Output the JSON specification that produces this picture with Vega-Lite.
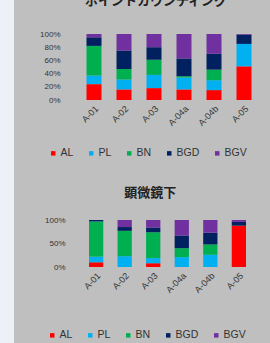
{
  "$schema": "https://vega.github.io/schema/vega-lite/v6.json",
  "background": "#bfbfbf",
  "padding": {"left": 0, "top": -7, "right": 11, "bottom": 11},
  "spacing": 25,
  "datasets": {
    "top": [
      {"s": "A-01", "t": "AL", "o": 1, "v": 24}, {"s": "A-01", "t": "PL", "o": 2, "v": 13}, {"s": "A-01", "t": "BN", "o": 3, "v": 45}, {"s": "A-01", "t": "BGD", "o": 4, "v": 13}, {"s": "A-01", "t": "BGV", "o": 5, "v": 5},
      {"s": "A-02", "t": "AL", "o": 1, "v": 16}, {"s": "A-02", "t": "PL", "o": 2, "v": 15}, {"s": "A-02", "t": "BN", "o": 3, "v": 16}, {"s": "A-02", "t": "BGD", "o": 4, "v": 28}, {"s": "A-02", "t": "BGV", "o": 5, "v": 25},
      {"s": "A-03", "t": "AL", "o": 1, "v": 18}, {"s": "A-03", "t": "PL", "o": 2, "v": 20}, {"s": "A-03", "t": "BN", "o": 3, "v": 23}, {"s": "A-03", "t": "BGD", "o": 4, "v": 19}, {"s": "A-03", "t": "BGV", "o": 5, "v": 20},
      {"s": "A-04a", "t": "AL", "o": 1, "v": 16}, {"s": "A-04a", "t": "PL", "o": 2, "v": 18}, {"s": "A-04a", "t": "BN", "o": 3, "v": 2}, {"s": "A-04a", "t": "BGD", "o": 4, "v": 27}, {"s": "A-04a", "t": "BGV", "o": 5, "v": 37},
      {"s": "A-04b", "t": "AL", "o": 1, "v": 15}, {"s": "A-04b", "t": "PL", "o": 2, "v": 15}, {"s": "A-04b", "t": "BN", "o": 3, "v": 16}, {"s": "A-04b", "t": "BGD", "o": 4, "v": 24}, {"s": "A-04b", "t": "BGV", "o": 5, "v": 30},
      {"s": "A-05", "t": "AL", "o": 1, "v": 51}, {"s": "A-05", "t": "PL", "o": 2, "v": 34}, {"s": "A-05", "t": "BN", "o": 3, "v": 0}, {"s": "A-05", "t": "BGD", "o": 4, "v": 14}, {"s": "A-05", "t": "BGV", "o": 5, "v": 1}
    ],
    "bottom": [
      {"s": "A-01", "t": "AL", "o": 1, "v": 10}, {"s": "A-01", "t": "PL", "o": 2, "v": 12}, {"s": "A-01", "t": "BN", "o": 3, "v": 75}, {"s": "A-01", "t": "BGD", "o": 4, "v": 3}, {"s": "A-01", "t": "BGV", "o": 5, "v": 0},
      {"s": "A-02", "t": "AL", "o": 1, "v": 0}, {"s": "A-02", "t": "PL", "o": 2, "v": 23}, {"s": "A-02", "t": "BN", "o": 3, "v": 54}, {"s": "A-02", "t": "BGD", "o": 4, "v": 8}, {"s": "A-02", "t": "BGV", "o": 5, "v": 15},
      {"s": "A-03", "t": "AL", "o": 1, "v": 8}, {"s": "A-03", "t": "PL", "o": 2, "v": 11}, {"s": "A-03", "t": "BN", "o": 3, "v": 55}, {"s": "A-03", "t": "BGD", "o": 4, "v": 10}, {"s": "A-03", "t": "BGV", "o": 5, "v": 16},
      {"s": "A-04a", "t": "AL", "o": 1, "v": 0}, {"s": "A-04a", "t": "PL", "o": 2, "v": 21}, {"s": "A-04a", "t": "BN", "o": 3, "v": 19}, {"s": "A-04a", "t": "BGD", "o": 4, "v": 27}, {"s": "A-04a", "t": "BGV", "o": 5, "v": 33},
      {"s": "A-04b", "t": "AL", "o": 1, "v": 0}, {"s": "A-04b", "t": "PL", "o": 2, "v": 26}, {"s": "A-04b", "t": "BN", "o": 3, "v": 22}, {"s": "A-04b", "t": "BGD", "o": 4, "v": 25}, {"s": "A-04b", "t": "BGV", "o": 5, "v": 27},
      {"s": "A-05", "t": "AL", "o": 1, "v": 88}, {"s": "A-05", "t": "PL", "o": 2, "v": 0}, {"s": "A-05", "t": "BN", "o": 3, "v": 0}, {"s": "A-05", "t": "BGD", "o": 4, "v": 8}, {"s": "A-05", "t": "BGV", "o": 5, "v": 4}
    ]
  },
  "config": {
    "view": {"stroke": null},
    "font": "Liberation Sans",
    "axis": {"domain": false, "ticks": false, "grid": false, "labelColor": "#333333", "title": null},
    "title": {"font": "Noto Sans CJK JP", "fontSize": 13, "fontWeight": "bold", "color": "#222222", "anchor": "middle", "frame": "bounds"},
    "legend": {"orient": "none", "direction": "horizontal", "title": null, "symbolType": "square", "symbolSize": 20, "labelFontSize": 10.5, "labelColor": "#333333", "columnPadding": 12, "labelOffset": 2}
  },
  "hconcat": [
    {
      "data": {"values": [{"a": 1}]},
      "width": 14,
      "height": 360,
      "view": {"fill": "#eef0f8", "stroke": null},
      "mark": {"type": "point", "opacity": 0},
      "encoding": {}
    },
    {
      "spacing": 28,
      "resolve": {"legend": {"color": "independent"}, "scale": {"color": "independent"}},
      "vconcat": [
        {
          "spacing": 21,
          "vconcat": [
            {
              "data": {"values": [{"a": 1}]},
              "width": 154,
              "height": 16,
              "mark": {"type": "text", "font": "Noto Sans CJK JP", "fontSize": 13, "fontWeight": "bold", "color": "#222222", "baseline": "middle", "align": "center"},
              "encoding": {"text": {"value": "ポイントカウンティング"}}
            },
            {
              "data": {"name": "top"},
              "width": 180,
              "height": 66,
              "mark": {"type": "bar"},
              "encoding": {
                "x": {"field": "s", "type": "nominal", "sort": null, "scale": {"paddingInner": 0.5, "paddingOuter": 0.25}, "axis": {"labelAngle": -45, "labelFontSize": 9, "labelPadding": 4}},
                "y": {"field": "v", "type": "quantitative", "stack": "normalize", "axis": {"values": [0, 0.2, 0.4, 0.6, 0.8, 1], "format": ".0%", "labelFontSize": 8, "labelPadding": 19}},
                "color": {"field": "t", "type": "nominal", "scale": {"domain": ["AL", "PL", "BN", "BGD", "BGV"], "range": ["#ff0000", "#00b0f0", "#00b050", "#002060", "#7030a0"]}, "legend": {"legendX": -31, "legendY": 155}},
                "order": {"field": "o", "type": "quantitative"}
              }
            }
          ]
        },
        {
          "data": {"name": "bottom"},
          "title": {"text": "顕微鏡下", "offset": 16},
          "width": 177,
          "height": 47,
          "mark": {"type": "bar"},
          "encoding": {
            "x": {"field": "s", "type": "nominal", "sort": null, "scale": {"paddingInner": 0.5, "paddingOuter": 0.35}, "axis": {"labelAngle": -45, "labelFontSize": 9, "labelPadding": 4}},
            "y": {"field": "v", "type": "quantitative", "stack": "normalize", "axis": {"values": [0, 0.5, 1], "format": ".0%", "labelFontSize": 8, "labelPadding": 14}},
            "color": {"field": "t", "type": "nominal", "scale": {"domain": ["AL", "PL", "BN", "BGD", "BGV"], "range": ["#ff0000", "#00b0f0", "#00b050", "#002060", "#7030a0"]}, "legend": {"legendX": -32, "legendY": 110}},
            "order": {"field": "o", "type": "quantitative"}
          }
        }
      ]
    }
  ]
}
